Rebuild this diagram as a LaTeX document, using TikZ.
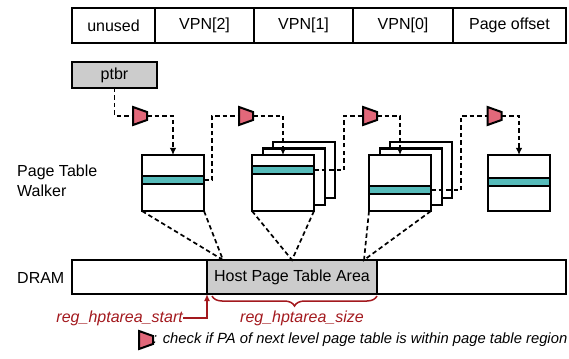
\documentclass[tikz,border=0pt]{standalone}
\usepackage{fontspec}
\setmainfont{Liberation Sans}
\usetikzlibrary{arrows.meta,decorations.pathreplacing,calc}
\definecolor{tealband}{RGB}{86,187,186}
\definecolor{muxred}{RGB}{226,104,122}
\definecolor{regred}{RGB}{163,25,30}
\definecolor{boxgray}{RGB}{204,204,204}
\begin{document}
\begin{tikzpicture}[x=1pt,y=-1pt,
  font=\fontsize{16}{20}\selectfont,
  box/.style={draw,line width=2pt,fill=white,inner sep=0pt,outer sep=0pt,anchor=north west},
  cell/.style={box,minimum height=35pt},
  tbl/.style={box,minimum width=62pt,minimum height=56pt},
  band/.style={box,fill=tealband,minimum width=62pt,minimum height=8pt},
  muxbox/.style={inner sep=0pt,outer sep=0pt,minimum width=14pt,minimum height=18pt},
  muxshape/.style={draw,line width=2pt,fill=muxred,line join=miter},
  conn/.style={draw,line width=1.7pt,dash pattern=on 4.5pt off 3pt},
  arr/.style={-{Latex[length=7pt,width=6.5pt]}},
  regtext/.style={text=regred,inner sep=0pt,font=\fontsize{16}{20}\selectfont\itshape},
  lbl/.style={inner sep=0pt,anchor=west,align=left}
]
\useasboundingbox (0,0) rectangle (569,358);

% virtual address fields
\node[cell,minimum width=83pt] (f0) at (72,8) {unused};
\node[cell,minimum width=99pt] (f1) at (155,8) {VPN[2]};
\node[cell,minimum width=99pt] (f2) at (254,8) {VPN[1]};
\node[cell,minimum width=100pt] (f3) at (353,8) {VPN[0]};
\node[cell,minimum width=113pt] (f4) at (453,8) {Page offset};

% ptbr
\node[box,fill=boxgray,minimum width=85pt,minimum height=26pt] (ptbr) at (72,62) {ptbr};

% labels
\node[lbl] (ptw) at (17,181) {Page Table\\Walker};
\node[lbl] (dl) at (17,278) {DRAM};

% page tables
\node[tbl] (t1) at (142,155) {};
\node[band] (b1) at (142,176) {};

\node[tbl] (t2c) at (273,142) {};
\node[tbl] (t2b) at (262.5,148.5) {};
\node[tbl] (t2) at (252,155) {};
\node[band] (b2) at (252,166) {};

\node[tbl] (t3c) at (390,142) {};
\node[tbl] (t3b) at (379.5,148.5) {};
\node[tbl] (t3) at (369,155) {};
\node[band] (b3) at (369,186) {};

\node[tbl] (t4) at (488,155) {};
\node[band] (b4) at (488,178) {};

% DRAM
\node[box,minimum width=494pt,minimum height=34pt] (dram) at (72,260) {};
\node[box,fill=boxgray,minimum width=170pt,minimum height=34pt] (host) at (207,260) {Host Page Table Area};

% checkers
\node[muxbox] (m1) at (140,116) {};
\node[muxbox] (m2) at (246,116) {};
\node[muxbox] (m3) at (370,116) {};
\node[muxbox] (m4) at (494.5,116) {};
\node[muxbox] (leg) at (146,340) {};
\foreach \m in {m1,m2,m3,m4,leg}
  \draw[muxshape] (\m.north west) -- ($(\m.north east)+(0,5)$) -- ($(\m.south east)+(0,-5)$) -- (\m.south west) -- cycle;

% walk connectors
\draw[conn] (ptbr.south) |- (m1.west);
\draw[conn,arr] (m1.east) -| (t1.north);
\draw[conn] (b1.east) -- ++(8,0) |- (m2.west);
\draw[conn,arr] (m2.east) -| (t2.north);
\draw[conn] (b2.east) -- ++(30,0) |- (m3.west);
\draw[conn,arr] (m3.east) -| (t3.north);
\draw[conn] (b3.east) -- ++(30,0) |- (m4.west);
\draw[conn,arr] (m4.east) -| (t4.north);

% projections into DRAM
\coordinate (d1) at (223,260);
\coordinate (d2) at (292,260);
\coordinate (d3) at (364,260);
\draw[conn] (t1.south west) -- (d1) -- (t1.south east);
\draw[conn] (t2.south west) -- (d2) -- (t2.south east);
\draw[conn] (t3.south west) -- (d3) -- (t3.south east);

% registers
\draw[regred,line width=1.5pt,decorate,decoration={brace,amplitude=10pt}] (377,296) -- (212,296);
\node[regtext] (hsz) at (302,318) {reg\_hptarea\_size};
\node[regtext,anchor=east] (hst) at (183,318) {reg\_hptarea\_start};
\draw[regred,line width=1.5pt,-{Latex[length=7pt,width=6pt]}] (hst.east) -| (host.south west);

% legend
\node[lbl,font=\fontsize{14.8}{18}\selectfont\itshape] (legt) at (153,340) {: check if PA of next level page table is within page table region};
\end{tikzpicture}
\end{document}
